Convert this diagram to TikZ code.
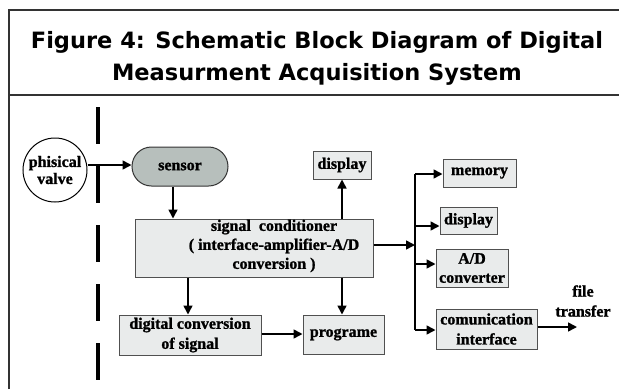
\documentclass[tikz,border=0pt]{standalone}
\usepackage{fontspec}
\setmainfont[BoldFeatures={FakeBold=1.2}]{Liberation Serif}
\newfontfamily\titlefont{DejaVu Sans}
\usetikzlibrary{arrows.meta}
\definecolor{boxfill}{HTML}{E9EBEB}
\definecolor{sensfill}{HTML}{B7BFBC}
\definecolor{boxline}{HTML}{505050}
\tikzset{
  blk/.style={draw=boxline, line width=1pt, fill=boxfill, inner sep=0pt, font=\fontsize{16}{20}\selectfont\bfseries, align=center},
  arr/.style={line width=1.6pt, -{Triangle[length=9pt,width=9pt]}},
  ln/.style={line width=1.6pt},
  frame/.style={line width=1.2pt, draw=black!80}
}
\begin{document}
\begin{tikzpicture}[x=1pt,y=-1pt]
\useasboundingbox (0,0) rectangle (619,389);
% frame
\draw[frame] (9,389) -- (9,10) -- (619,10);
\draw[frame] (9,95) -- (619,95);
\node[font=\titlefont\bfseries\fontsize{22.5}{32}\selectfont, align=center] (title) at (317,58)
  {Figure 4: Schematic Block Diagram of Digital\\Measurment Acquisition System};
% dashed separator
\draw[line width=4pt, dash pattern=on 37pt off 22pt] (98,107) -- (98,380);
% nodes
\node[draw=black, line width=1pt, fill=white, circle, minimum size=64pt, inner sep=0pt, align=center, font=\fontsize{16}{17}\selectfont\bfseries] (valve) at (55,170) {phisical\\valve};
\node[draw=black!80, line width=1pt, fill=sensfill, rounded corners=19.5pt, minimum width=96pt, minimum height=39pt, inner sep=0pt, font=\fontsize{16}{18}\selectfont\bfseries] (sensor) at (180,166.5) {sensor};
\node[blk, minimum width=238pt, minimum height=58pt] (cond) at (254,248) {};
\node[font=\fontsize{16}{19}\selectfont\bfseries, align=center] (condtext) at (274,246) {signal\ \ conditioner\\( interface-amplifier-A/D\\conversion )};
\node[blk, minimum width=58pt, minimum height=28pt] (disp1) at (342,165) {display};
\node[blk, minimum width=73pt, minimum height=28pt] (mem) at (479.5,173) {memory};
\node[blk, minimum width=57pt, minimum height=27pt] (disp2) at (468.5,220.5) {display};
\node[blk, minimum width=72pt, minimum height=38pt, font=\fontsize{16}{19}\selectfont\bfseries] (adc) at (472,268) {A/D\\converter};
\node[blk, minimum width=101pt, minimum height=40pt] (comm) at (486.5,329) {comunication\\interface};
\node[blk, minimum width=142pt, minimum height=40pt] (dig) at (190,335) {digital conversion\\of signal};
\node[blk, minimum width=81pt, minimum height=39pt] (prog) at (343.5,334.5) {programe};
\node[font=\fontsize{16}{20}\selectfont\bfseries, align=center] (file) at (583,301) {file\\transfer};
\coordinate (fileend) at (577,327);
% connectors
\draw[arr] (valve.east |- 0,165) -- (sensor.west |- 0,165);
\draw[arr] (sensor.south -| 173,0) -- (cond.north -| 173,0);
\draw[arr] (cond.north -| disp1.south) -- (disp1.south);
\coordinate (busT) at (415,174);
\coordinate (busB) at (415,330);
\draw[arr] (cond.east |- 0,245) -- (busT |- 0,245);
\draw[ln] (busT) -- (busB);
\draw[arr] (busT) -- (mem.west |- busT);
\draw[arr] (415,226) -- (disp2.west |- 0,226);
\draw[arr] (415,264) -- (adc.west |- 0,264);
\draw[arr] (busB) -- (comm.west |- busB);
\draw[arr] (comm.east |- fileend) -- (fileend);
\draw[arr] (cond.south -| 188,0) -- (dig.north -| 188,0);
\draw[arr] (cond.south -| 342,0) -- (prog.north -| 342,0);
\draw[arr] (dig.east |- 0,334) -- (prog.west |- 0,334);
\end{tikzpicture}
\end{document}
